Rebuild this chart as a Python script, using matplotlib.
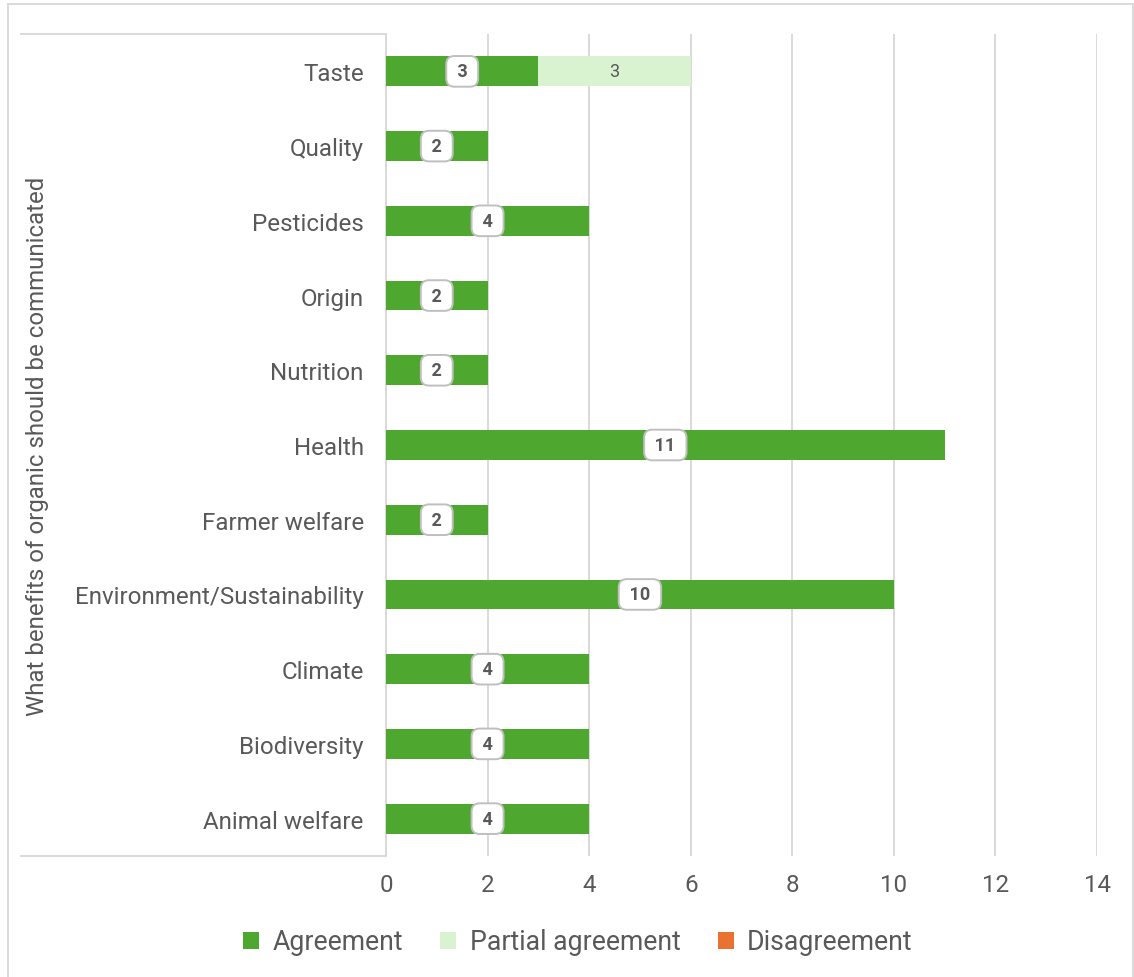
import matplotlib.pyplot as plt
from matplotlib.lines import Line2D
from matplotlib.patches import Rectangle

plt.rcParams['font.family'] = ['Roboto', 'DejaVu Sans']

# data (bottom to top)
categories = ['Animal welfare', 'Biodiversity', 'Climate', 'Environment/Sustainability',
              'Farmer welfare', 'Health', 'Nutrition', 'Origin', 'Pesticides', 'Quality', 'Taste']
agreement = [4, 4, 4, 10, 2, 11, 2, 2, 4, 2, 3]
partial = [0, 0, 0, 0, 0, 0, 0, 0, 0, 0, 3]
disagreement = [0, 0, 0, 0, 0, 0, 0, 0, 0, 0, 0]
xticks = [0, 2, 4, 6, 8, 10, 12, 14]

green = '#4EA72E'
light = '#D9F2D0'
orange = '#E97132'
txt = '#595959'
grid = '#d9d9d9'

W, H = 1134, 978
fig = plt.figure(figsize=(W / 100, H / 100), dpi=100)
ax = fig.add_axes([386 / W, 1 - 857 / H, (1097 - 386) / W, (857 - 35) / H])

y = list(range(len(categories)))
ax.barh(y, agreement, height=0.4, color=green, label='Agreement', zorder=3)
ax.barh(y, partial, left=agreement, height=0.4, color=light, label='Partial agreement', zorder=3)
left2 = [a + p for a, p in zip(agreement, partial)]
ax.barh(y, disagreement, left=left2, height=0.4, color=orange, label='Disagreement', zorder=3)

# data labels
for i, (a, p) in enumerate(zip(agreement, partial)):
    if a > 0:
        ax.text(a / 2, i, ' %d ' % a, ha='center', va='center', fontsize=13, fontweight='bold',
                color=txt, zorder=5,
                bbox=dict(boxstyle='round,pad=0.35,rounding_size=0.45', fc='white',
                          ec='#bfbfbf', lw=1.4))
    if p > 0:
        ax.text(a + p / 2, i, str(p), ha='center', va='center', fontsize=13, color=txt, zorder=5)

ax.set_xlim(0, 14)
ax.set_ylim(-0.5, len(categories) - 0.5)
ax.set_xticks(xticks)
ax.set_yticks(y)
ax.set_yticklabels(categories)
ax.tick_params(axis='y', length=0, pad=16, labelsize=17.4, labelcolor=txt)
ax.tick_params(axis='x', length=0, pad=12, labelsize=17.4, labelcolor=txt)
ax.xaxis.grid(True, color=grid, lw=1.4, zorder=0)
for s in ['top', 'right', 'bottom']:
    ax.spines[s].set_visible(False)
ax.spines['left'].set_color(grid)
ax.spines['left'].set_linewidth(1.4)

# category group bracket and label
for yy in [35, 857]:
    fig.add_artist(Line2D([21 / W, 386 / W], [1 - yy / H, 1 - yy / H], color=grid, lw=1.4))
fig.text(38 / W, 1 - 446 / H, 'What benefits of organic should be communicated', rotation=90,
         ha='center', va='center', fontsize=17.3, color=txt)

# outer border
fig.add_artist(Rectangle((8 / W, -0.01), (1133 - 8) / W, 1 - 5 / H + 0.01, fill=False,
                         ec=grid, lw=1.4, transform=fig.transFigure))

ax.legend(loc='center', bbox_to_anchor=(578 / W, 1 - 943 / H), bbox_transform=fig.transFigure,
          ncol=3, frameon=False, fontsize=19.2, labelcolor=txt, handlelength=0.6, handleheight=0.6,
          handletextpad=0.5, columnspacing=1.4)

fig.savefig('out.png', dpi=100)
